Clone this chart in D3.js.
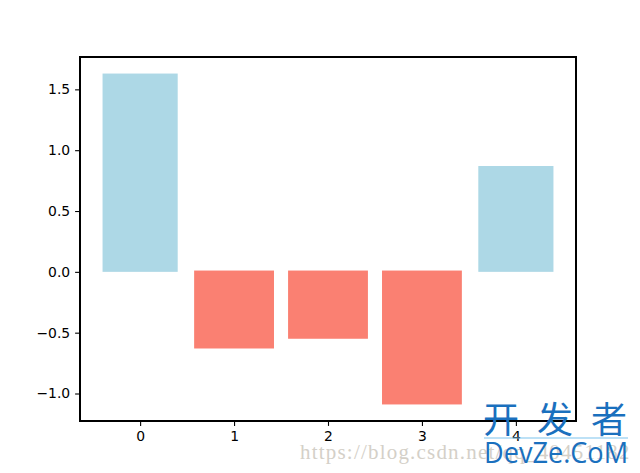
<!DOCTYPE html>
<html>
<head>
<meta charset="utf-8">
<script src="https://cdn.jsdelivr.net/npm/d3@7"></script>
<style>
  html, body { margin: 0; padding: 0; background: #fff; }
  svg { display: block; }
</style>
</head>
<body>
<svg id="chart" width="640" height="473"></svg>
<script>
const categories = [0, 1, 2, 3, 4];
const values = [1.63, -0.63, -0.55, -1.09, 0.87];
const xTicks = [0, 1, 2, 3, 4];
const yTicks = [-1.0, -0.5, 0.0, 0.5, 1.0, 1.5];

(function () {
const svg = d3.select("#chart");
const mLeft = 80, mRight = 576, mTop = 57, mBottom = 421;

const barW = 0.8;
const xMin = -barW / 2, xMax = categories.length - 1 + barW / 2;
const xPad = (xMax - xMin) * 0.05;
const x = d3.scaleLinear().domain([xMin - xPad, xMax + xPad]).range([mLeft, mRight]);

const yMinD = Math.min(0, d3.min(values)), yMaxD = Math.max(0, d3.max(values));
const yPad = (yMaxD - yMinD) * 0.05;
const y = d3.scaleLinear().domain([yMinD - yPad, yMaxD + yPad]).range([mBottom, mTop]);

// bars
svg.append("g").selectAll("rect").data(categories).join("rect")
  .attr("x", (d, i) => {
    const w = values[i] < 0 ? 0.85 : barW;
    return x(d - w / 2);
  })
  .attr("width", (d, i) => {
    const w = values[i] < 0 ? 0.85 : barW;
    return x(w) - x(0);
  })
  .attr("y", (d, i) => values[i] >= 0 ? y(values[i]) : y(0) - 1.3)
  .attr("height", (d, i) => Math.abs(y(values[i]) - y(0)) + (values[i] < 0 ? 1.3 : 0))
  .attr("fill", (d, i) => values[i] >= 0 ? "#add8e6" : "#fa8072");

const font = "DejaVu Sans, sans-serif";

// axes
const xAxis = d3.axisBottom(x).tickValues(xTicks).tickFormat(d3.format("d")).tickSize(4.9).tickPadding(4.9);
const gx = svg.append("g").attr("transform", `translate(0,${mBottom})`).call(xAxis);
const yAxis = d3.axisLeft(y).tickValues(yTicks)
  .tickFormat(d => d3.format(".1f")(d).replace("-", "\u2212")).tickSize(4.9).tickPadding(4.9);
const gy = svg.append("g").attr("transform", `translate(${mLeft},0)`).call(yAxis);
[gx, gy].forEach(g => {
  g.select(".domain").remove();
  g.selectAll("text").attr("font-family", font).attr("font-size", "13.9px").attr("fill", "#000");
  g.selectAll("line").attr("stroke", "#000").attr("stroke-width", 1.1);
});

// frame
svg.append("rect").attr("x", mLeft).attr("y", mTop).attr("width", mRight - mLeft).attr("height", mBottom - mTop)
  .attr("fill", "none").attr("stroke", "#000").attr("stroke-width", 1.2).attr("shape-rendering", "crispEdges");

// watermark
svg.append("text").attr("x", 300).attr("y", 459)
  .attr("font-family", "Liberation Serif, serif").attr("font-size", "21px")
  .attr("fill", "#d4d0c8").attr("letter-spacing", "1.2px")
  .text("https://blog.csdn.net/qq_40451182");
svg.append("line").attr("x1", 484).attr("x2", 628).attr("y1", 438).attr("y2", 438)
  .attr("stroke", "#7cc4ee").attr("stroke-width", 1.2);
svg.append("text").attr("x", 483).attr("y", 433)
  .attr("font-family", "Noto Sans CJK SC, sans-serif").attr("font-size", "36px")
  .attr("fill", "#1a70be").attr("letter-spacing", "18px")
  .text("开发者");
svg.append("text").attr("x", 484).attr("y", 463)
  .attr("font-family", "Open Sans, sans-serif").attr("font-size", "30px")
  .attr("fill", "#1a70be").attr("textLength", 144).attr("lengthAdjust", "spacingAndGlyphs")
  .text("DevZe.CoM");
})();
</script>
</body>
</html>
